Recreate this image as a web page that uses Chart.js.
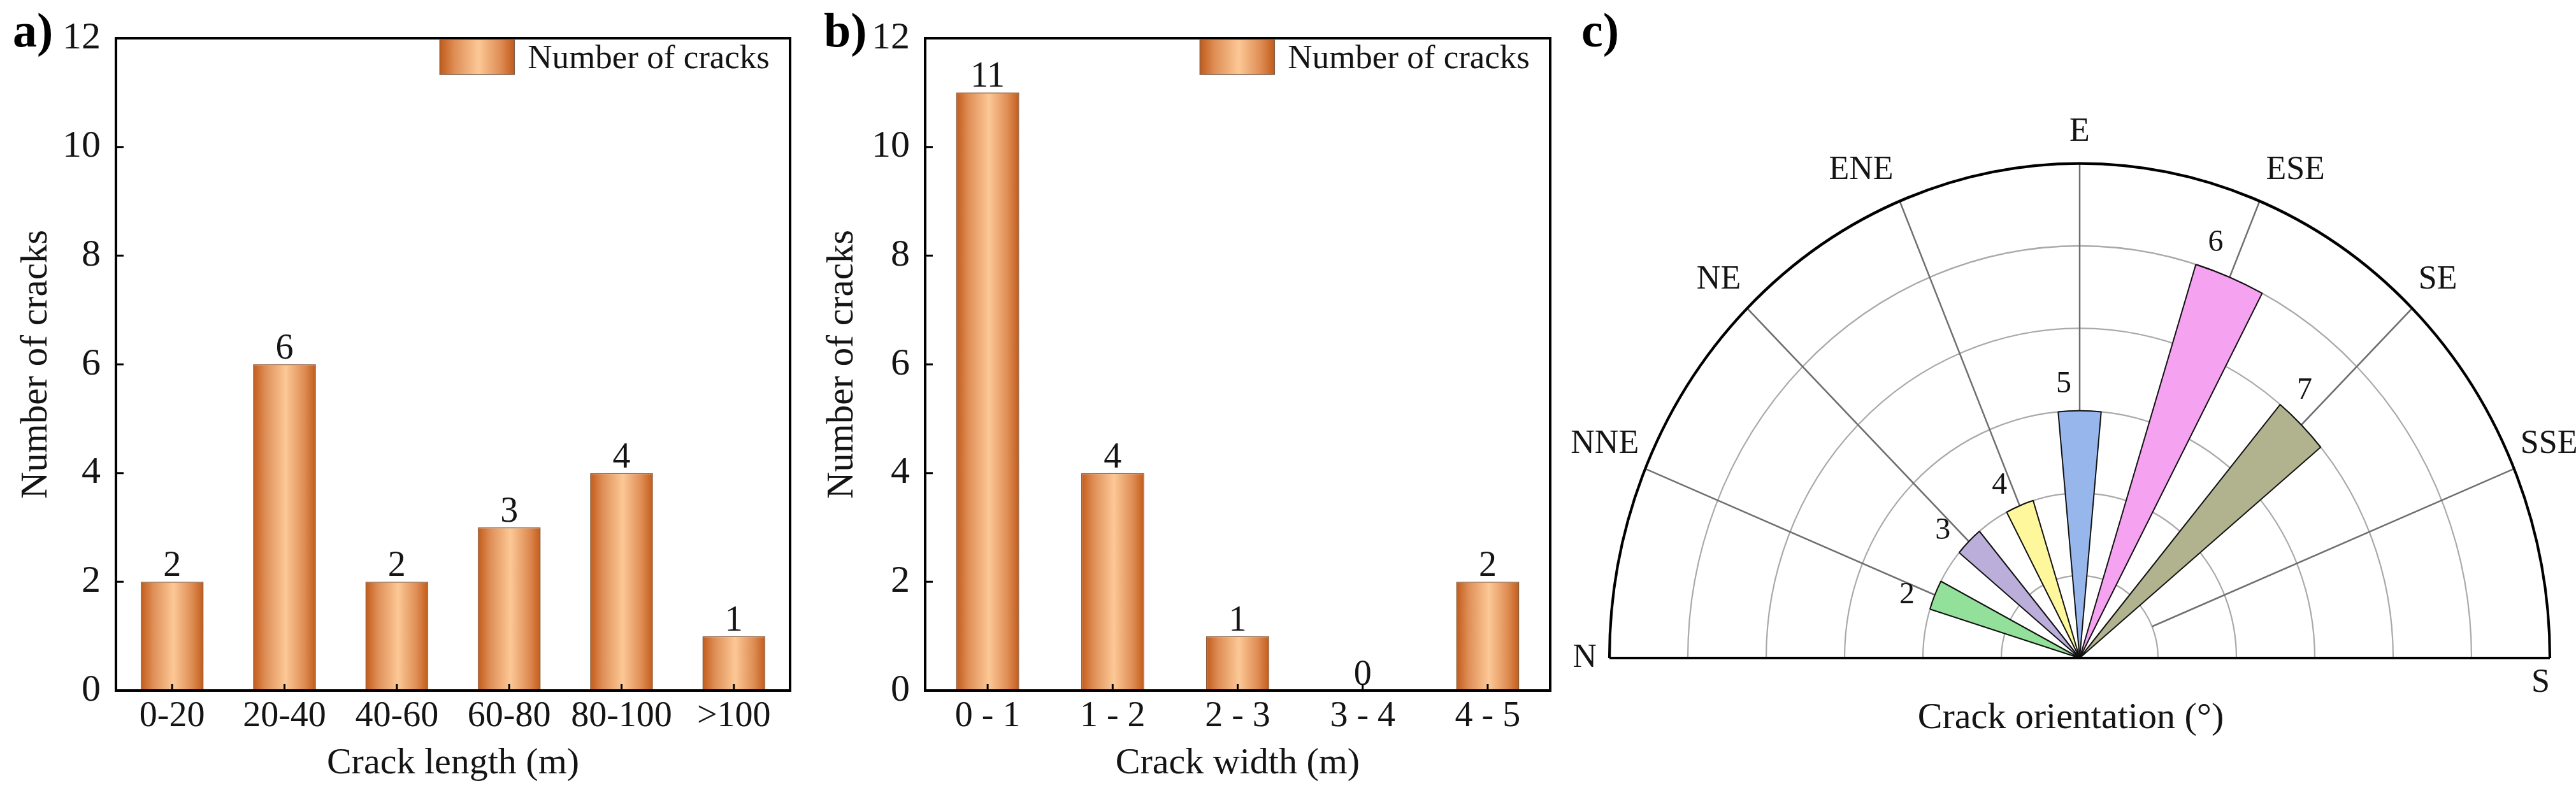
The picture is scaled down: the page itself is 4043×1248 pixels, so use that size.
<!DOCTYPE html>
<html><head><meta charset="utf-8">
<script src="https://cdn.jsdelivr.net/npm/chart.js@4.4.1/dist/chart.umd.min.js"></script>
<style>
html,body{margin:0;padding:0;background:#fff;overflow:hidden;}
#wrap{position:relative;width:4043px;height:1248px;overflow:hidden;background:#fff;}
canvas{position:absolute;top:0;}
</style></head><body>
<div id="wrap">
<canvas id="ca" width="1265" height="1248" style="left:0px"></canvas>
<canvas id="cb" width="1193" height="1248" style="left:1265px"></canvas>
<canvas id="cc" width="1585" height="1800" style="left:2458px"></canvas>
</div>
<script>
// ---------- data ----------
const lengthCategories = ['0-20', '20-40', '40-60', '60-80', '80-100', '>100'];
const lengthCounts = [2, 6, 2, 3, 4, 1];
const widthCategories = ['0 - 1', '1 - 2', '2 - 3', '3 - 4', '4 - 5'];
const widthCounts = [11, 4, 1, 0, 2];
const yTickValues = [0, 2, 4, 6, 8, 10, 12];
const compassLabels = ['N', 'NNE', 'NE', 'ENE', 'E', 'ESE', 'SE', 'SSE', 'S'];
const compassBearings = [0, 22.5, 45, 67.5, 90, 112.5, 135, 157.5, 180];
const petalBearings = [22.5, 45, 67.5, 90, 112.5, 135];
const petalCounts = [2, 2, 2, 3, 5, 4];
const petalIds = ['2', '3', '4', '5', '6', '7'];
const radialTicks = [1, 2, 3, 4, 5, 6];

// ---------- style ----------
const petalColors = ['#93e09a', '#bcaedb', '#fff79c', '#97b7ec', '#f5a3f1', '#b1b28e'];
const petalWidth = 10.5;
const FONT = "'Liberation Serif', 'Times New Roman', serif";
const TXT = '#141414';
Chart.defaults.font.family = FONT;
Chart.defaults.color = TXT;

function barGradient(ctx, x0, x1) {
  const g = ctx.createLinearGradient(x0, 0, x1, 0);
  g.addColorStop(0, '#c25b1a');
  g.addColorStop(0.2, '#df8f57');
  g.addColorStop(0.52, '#fcc896');
  g.addColorStop(0.82, '#de8c53');
  g.addColorStop(1, '#c25b1a');
  return g;
}

function barDeco(panelLabel) {
  return {
    id: 'barDeco',
    afterDatasetsDraw(chart) {
      const ctx = chart.ctx, a = chart.chartArea, xs = chart.scales.x, ys = chart.scales.y;
      ctx.save();
      // value labels
      const meta = chart.getDatasetMeta(0);
      ctx.fillStyle = TXT;
      ctx.font = '56px ' + FONT;
      ctx.textAlign = 'center';
      ctx.textBaseline = 'alphabetic';
      meta.data.forEach((el, i) => {
        ctx.fillText(String(chart.data.datasets[0].data[i]), el.x, el.y - 9);
      });
      // frame
      ctx.strokeStyle = '#000';
      ctx.lineWidth = 4;
      ctx.strokeRect(a.left, a.top, a.right - a.left, a.bottom - a.top);
      // inward ticks
      ctx.lineWidth = 3;
      ctx.beginPath();
      yTickValues.forEach(v => {
        const y = ys.getPixelForValue(v);
        ctx.moveTo(a.left, y); ctx.lineTo(a.left + 12, y);
      });
      chart.data.labels.forEach((l, i) => {
        const x = xs.getPixelForValue(i);
        ctx.moveTo(x, a.bottom); ctx.lineTo(x, a.bottom - 10);
      });
      ctx.stroke();
      // legend inside chart area
      ctx.font = '53px ' + FONT;
      ctx.textAlign = 'right';
      const label = chart.data.datasets[0].label;
      const tx = a.right - 32;
      const tw = ctx.measureText(label).width;
      ctx.fillText(label, tx, 107);
      const bx1 = tx - tw - 21, bx0 = bx1 - 117;
      ctx.fillStyle = barGradient(ctx, bx0, bx1);
      ctx.fillRect(bx0, 62, 117, 55);
      ctx.strokeStyle = '#7d6250';
      ctx.lineWidth = 1.5;
      ctx.strokeRect(bx0, 62, 117, 55);
      // panel label
      ctx.fillStyle = '#000';
      ctx.font = 'bold 76px ' + FONT;
      ctx.textAlign = 'left';
      ctx.fillText(panelLabel.text, panelLabel.x, 73);
      ctx.restore();
    }
  };
}

function barChart(id, cats, vals, o) {
  const n = cats.length;
  return new Chart(document.getElementById(id), {
    type: 'bar',
    data: {
      labels: cats,
      datasets: [{
        label: 'Number of cracks',
        data: vals,
        backgroundColor: (c) => {
          const ch = c.chart, a = ch.chartArea;
          if (!a || c.dataIndex === undefined) return '#eaa46c';
          const cx = ch.scales.x.getPixelForValue(c.dataIndex);
          const hw = (a.right - a.left) / n * o.barPct / 2;
          return barGradient(ch.ctx, cx - hw, cx + hw);
        },
        borderColor: '#8a5a38',
        borderWidth: (c) => (c.raw ? 1.5 : 0),
        barPercentage: o.barPct,
        categoryPercentage: 1
      }]
    },
    options: {
      responsive: false, animation: false, devicePixelRatio: 1,
      layout: { padding: { top: 42, right: o.right, left: 0, bottom: 0 } },
      plugins: { legend: { display: false }, tooltip: { enabled: false } },
      scales: {
        x: {
          grid: { display: false, drawTicks: false }, border: { display: false },
          ticks: { font: { size: 56 }, color: TXT, padding: 8, maxRotation: 0 },
          title: { display: true, text: o.xTitle, font: { size: 58 }, color: TXT, padding: { top: 0, bottom: 14 } },
          afterFit: (s) => { s.height = 164; }
        },
        y: {
          min: 0, max: 12,
          afterBuildTicks: (s) => { s.ticks = yTickValues.map(v => ({ value: v })); },
          grid: { display: false, drawTicks: false }, border: { display: false },
          ticks: { font: { size: 60 }, color: TXT, padding: 24 },
          title: { display: true, text: 'Number of cracks', font: { size: 59 }, color: TXT, padding: { top: 22, bottom: 0 } },
          afterFit: (s) => { s.width = o.yWidth; }
        }
      }
    },
    plugins: [barDeco(o.panel)]
  });
}

barChart('ca', lengthCategories, lengthCounts, { barPct: 0.56, right: 25, yWidth: 182, xTitle: 'Crack length (m)', panel: { text: 'a)', x: 20 } });
barChart('cb', widthCategories, widthCounts, { barPct: 0.505, right: 25, yWidth: 187, xTitle: 'Crack width (m)', panel: { text: 'b)', x: 28 } });

// ---------- polar (half rose) ----------
const SY = 1.052; // vertical stretch of the original semicircle
const segVals = [], segAngles = [], segColors = [], segPetal = [];
(function build() {
  let cur = 0; const h = petalWidth / 2;
  petalBearings.forEach((b, i) => {
    segVals.push(0); segAngles.push(b - h - cur); segColors.push('rgba(0,0,0,0)'); segPetal.push(-1);
    segVals.push(petalCounts[i]); segAngles.push(petalWidth); segColors.push(petalColors[i]); segPetal.push(i);
    cur = b + h;
  });
  segVals.push(0); segAngles.push(360 - cur); segColors.push('rgba(0,0,0,0)'); segPetal.push(-1);
})();

const polarDeco = {
  id: 'polarDeco',
  beforeDatasetsDraw(chart) {
    const r = chart.scales.r, ctx = chart.ctx, xc = r.xCenter, yc = r.yCenter;
    ctx.save();
    ctx.translate(0, yc); ctx.scale(1, SY); ctx.translate(0, -yc);
    const R = r.getDistanceFromCenterForValue(radialTicks[radialTicks.length - 1]);
    ctx.strokeStyle = '#a9a9a9'; ctx.lineWidth = 2.2;
    radialTicks.slice(0, -1).forEach(v => {
      ctx.beginPath();
      ctx.arc(xc, yc, r.getDistanceFromCenterForValue(v), Math.PI, 2 * Math.PI);
      ctx.stroke();
    });
    ctx.strokeStyle = '#6f6f6f'; ctx.lineWidth = 2.5;
    const r1 = r.getDistanceFromCenterForValue(radialTicks[0]);
    compassBearings.slice(1, -1).forEach(b => {
      const t = b * Math.PI / 180;
      ctx.beginPath();
      ctx.moveTo(xc - r1 * Math.cos(t), yc - r1 * Math.sin(t));
      ctx.lineTo(xc - R * Math.cos(t), yc - R * Math.sin(t));
      ctx.stroke();
    });
    // transform kept for datasets
  },
  afterDatasetsDraw(chart) {
    const r = chart.scales.r, ctx = chart.ctx, xc = r.xCenter, yc = r.yCenter;
    const R = r.getDistanceFromCenterForValue(radialTicks[radialTicks.length - 1]);
    ctx.strokeStyle = '#000'; ctx.lineWidth = 4.2;
    ctx.beginPath(); ctx.arc(xc, yc, R, Math.PI, 2 * Math.PI); ctx.stroke();
    ctx.restore();
    ctx.save();
    ctx.strokeStyle = '#000'; ctx.lineWidth = 4.2;
    ctx.beginPath(); ctx.moveTo(xc - R, yc); ctx.lineTo(xc + R, yc); ctx.stroke();
    // compass labels
    ctx.fillStyle = TXT;
    ctx.font = '52px ' + FONT;
    compassBearings.forEach((b, i) => {
      const t = b * Math.PI / 180;
      const ex = xc - R * Math.cos(t), ey = yc - R * Math.sin(t) * SY;
      const lab = compassLabels[i];
      if (b === 0) {
        ctx.textAlign = 'right'; ctx.textBaseline = 'middle';
        ctx.fillText(lab, ex - 20, yc);
      } else if (b === 180) {
        ctx.textAlign = 'right'; ctx.textBaseline = 'alphabetic';
        ctx.fillText(lab, ex, yc + 53);
      } else {
        ctx.textBaseline = 'alphabetic';
        let x = ex;
        if (b < 90) { ctx.textAlign = 'right'; x = ex - 10; }
        else if (b > 90) { ctx.textAlign = 'left'; x = ex + 10; }
        else { ctx.textAlign = 'center'; }
        ctx.fillText(lab, x, ey - (18 + 18 * Math.sin(t)));
      }
    });
    // petal id labels
    ctx.font = '48px ' + FONT;
    ctx.textAlign = 'center'; ctx.textBaseline = 'middle';
    petalBearings.forEach((b, i) => {
      const d = r.getDistanceFromCenterForValue(petalCounts[i] + 0.33);
      const t = (b - 3.5) * Math.PI / 180;
      ctx.fillText(petalIds[i], xc - d * Math.cos(t), yc - d * Math.sin(t) * SY);
    });
    // axis title
    ctx.font = '58px ' + FONT;
    ctx.textAlign = 'center'; ctx.textBaseline = 'alphabetic';
    ctx.fillText('Crack orientation (°)', xc - 14, yc + 110);
    // panel label
    ctx.fillStyle = '#000';
    ctx.font = 'bold 76px ' + FONT;
    ctx.textAlign = 'left';
    ctx.fillText('c)', 24, 73);
    ctx.restore();
  }
};

new Chart(document.getElementById('cc'), {
  type: 'polarArea',
  data: {
    labels: segVals.map((v, i) => 'seg' + i),
    datasets: [{
      data: segVals,
      backgroundColor: (c) => segColors[c.dataIndex] || 'rgba(0,0,0,0)',
      borderColor: '#111',
      borderWidth: (c) => (segPetal[c.dataIndex] >= 0 ? 2 : 0),
      angle: (c) => segAngles[c.dataIndex]
    }]
  },
  options: {
    responsive: false, animation: false, devicePixelRatio: 1,
    layout: { padding: { left: 68, right: 41, top: 295, bottom: 29 } },
    plugins: { legend: { display: false }, tooltip: { enabled: false } },
    scales: {
      r: {
        min: 0, max: 6, startAngle: -90,
        grid: { display: false }, angleLines: { display: false },
        pointLabels: { display: false }, ticks: { display: false }
      }
    }
  },
  plugins: [polarDeco]
});
</script>
</body></html>
